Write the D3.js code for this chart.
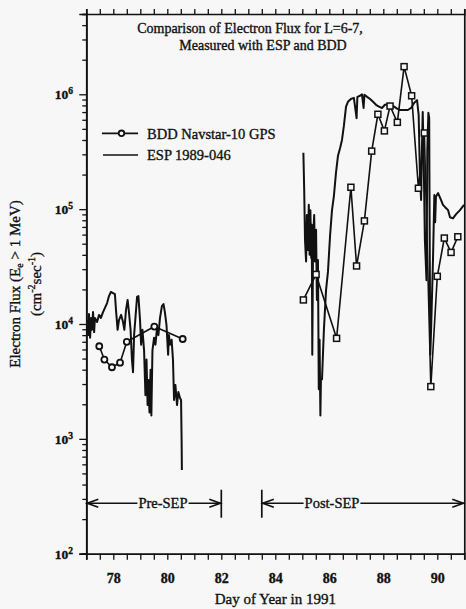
<!DOCTYPE html>
<html><head><meta charset="utf-8">
<script src="https://cdn.jsdelivr.net/npm/d3@7"></script>
<style>html,body{margin:0;padding:0;background:#f7f7f7;} svg{display:block;} text{stroke:#111;stroke-width:0.35px;}</style>
</head><body><svg id="c" width="466" height="609"></svg>
<script>
// ---------------- data ----------------
const xDomain = [77, 91];
const yDomain = [100, 5e6];
const xTicks = [77,77.5,78,78.5,79,79.5,80,80.5,81,81.5,82,82.5,83,83.5,84,84.5,85,85.5,86,86.5,87,87.5,88,88.5,89,89.5,90,90.5,91];
const xTickLabels = [78, 80, 82, 84, 86, 88, 90];
const yMajorTicks = [1e2, 1e3, 1e4, 1e5, 1e6];
const yExponents = [2, 3, 4, 5, 6];

// ESP 1989-046 (day, flux)
const espPre = [[77.03,1.08e4],[77.07,8.0e3],[77.10,1.22e4],[77.14,7.6e3],[77.18,1.13e4],[77.21,8.9e3],[77.25,1.27e4],[77.29,8.5e3],[77.32,1.13e4],[77.40,1.04e4],[77.47,1.2e4],[77.54,1.13e4],[77.62,1.27e4],[77.69,1.38e4],[77.77,1.52e4],[77.84,1.75e4],[77.91,1.9e4],[77.99,1.86e4],[78.06,1.82e4],[78.10,1.32e4],[78.16,8.9e3],[78.21,1.08e4],[78.29,1.2e4],[78.36,1.04e4],[78.41,8.9e3],[78.47,1.32e4],[78.53,1.62e4],[78.58,1.27e4],[78.64,8.9e3],[78.69,4.9e3],[78.73,3.8e3],[78.77,8.0e3],[78.82,1.13e4],[78.88,1.72e4],[78.93,1.75e4],[78.99,1.08e4],[79.03,6.6e3],[79.08,8.9e3],[79.14,5.9e3],[79.19,2.4e3],[79.23,4.9e3],[79.27,1.97e3],[79.30,3.26e3],[79.34,1.7e3],[79.38,4.0e3],[79.41,1.6e3],[79.45,5.9e3],[79.51,7.6e3],[79.56,6.6e3],[79.62,9.2e3],[79.67,8.0e3],[79.73,1.13e4],[79.80,1.43e4],[79.86,1.49e4],[79.91,1.27e4],[79.97,9.8e3],[80.03,5.4e3],[80.06,8.0e3],[80.10,6.6e3],[80.16,7.3e3],[80.21,4.9e3],[80.25,2.18e3],[80.30,2.95e3],[80.36,1.97e3],[80.41,2.56e3],[80.47,2.27e3],[80.51,2.18e3],[80.53,9.8e2],[80.54,5.35e2]];
const espPost = [[85.04,3.1e5],[85.07,1.5e5],[85.10,5.4e4],[85.14,3.5e4],[85.17,8.9e4],[85.21,4.4e4],[85.24,1.09e5],[85.27,4.0e4],[85.30,9.8e4],[85.33,3.75e4],[85.35,7.3e4],[85.37,5.4e3],[85.40,5.4e4],[85.44,8.9e4],[85.47,3.5e4],[85.51,6.6e4],[85.54,1.62e4],[85.58,3.6e4],[85.61,2.7e3],[85.64,7.3e3],[85.67,1.6e3],[85.69,3.26e3],[85.73,3.3e3],[85.80,8.9e3],[85.88,1.98e4],[85.95,2.84e4],[86.03,5.95e4],[86.10,9.8e4],[86.17,1.3e5],[86.25,2.1e5],[86.32,2.9e5],[86.40,3.4e5],[86.47,4.0e5],[86.54,5.3e5],[86.62,7.8e5],[86.69,8.6e5],[86.80,9.1e5],[86.91,9.3e5],[87.01,6.2e5],[87.04,9.5e5],[87.14,9.7e5],[87.21,1.0e6],[87.27,7.6e5],[87.30,9.9e5],[87.40,9.5e5],[87.51,9.1e5],[87.62,8.6e5],[87.73,8.1e5],[87.84,7.8e5],[87.95,7.6e5],[88.06,8.1e5],[88.17,8.2e5],[88.28,8.1e5],[88.40,7.8e5],[88.51,7.5e5],[88.62,7.3e5],[88.77,7.3e5],[88.91,7.3e5],[89.03,7.6e5],[89.14,8.4e5],[89.25,8.9e5],[89.31,6.6e5],[89.36,1.8e5],[89.40,1.2e5],[89.43,3.3e5],[89.46,7.0e5],[89.49,3.3e5],[89.54,5.4e4],[89.60,2.4e4],[89.63,3.3e5],[89.67,6.9e5],[89.70,6.2e5],[89.72,4.4e4],[89.74,5.4e3],[89.77,8.9e3],[89.84,3.6e4],[89.89,1.33e5],[89.92,7.7e4],[89.95,1.28e5],[90.03,1.38e5],[90.14,1.2e5],[90.21,1.09e5],[90.29,1.04e5],[90.40,9.8e4],[90.47,8.5e4],[90.58,8.3e4],[90.69,9.0e4],[90.84,9.8e4],[90.99,1.09e5]];

// BDD Navstar-10 GPS (day, flux)
const bddPre = [[77.48,6.4e3],[77.67,4.9e3],[77.95,4.2e3],[78.25,4.6e3],[78.50,7.0e3],[79.52,9.5e3],[80.57,7.4e3]];
const bddPost = [[85.04,1.62e4],[85.51,2.7e4],[86.27,7.5e3],[86.80,1.55e5],[87.01,3.2e4],[87.30,7.9e4],[87.57,3.2e5],[87.80,6.7e5],[88.04,4.8e5],[88.25,7.9e5],[88.52,5.7e5],[88.77,1.74e6],[89.05,9.7e5],[89.30,1.52e5],[89.52,4.6e5],[89.76,2.85e3],[90.00,2.6e4],[90.26,5.6e4],[90.51,4.2e4],[90.76,5.75e4]];

// period annotations
const periodNames = ["Pre-SEP", "Post-SEP"];
const periodStart = [77, 83.5];
const periodEnd = [82, 91];
const periodLabelDay = [79.84, 86.1];
const periodFlux = 275;

const titleLines = ["Comparison of Electron Flux for L=6-7,", "Measured with ESP and BDD"];
const legendNames = ["BDD Navstar-10 GPS", "ESP 1989-046"];

// ---------------- drawing ----------------
const W = 466, H = 609;
const FONT = "'Liberation Serif','Times New Roman',serif";
const INK = "#111";
const svg = d3.select("#c");
svg.append("rect").attr("width", W).attr("height", H).attr("fill", "#f7f7f7");

const x = d3.scaleLinear().domain(xDomain).range([86.3, 464.3]);
const y = d3.scaleLog().domain(yDomain).range([553.7, 14]);

const yMinor = y.ticks().filter(v => !yMajorTicks.includes(v));

function styleAxis(g) {
  g.select(".domain").attr("stroke", INK).attr("stroke-width", 1.7);
  g.selectAll(".tick line").attr("stroke", INK).attr("stroke-width", 1.3);
  g.selectAll("text").attr("font-family", FONT).attr("fill", INK);
}

const gb = svg.append("g").attr("transform", `translate(0,${y.range()[0]})`)
  .call(d3.axisBottom(x).tickValues(xTicks).tickSize(6).tickPadding(13)
    .tickFormat(d => xTickLabels.includes(d) ? d : ""));
styleAxis(gb);
gb.selectAll("text").attr("font-size", 14).attr("font-weight", "bold");

const gt = svg.append("g").attr("transform", `translate(0,${y.range()[1]})`)
  .call(d3.axisTop(x).tickValues(xTicks).tickSize(5).tickFormat(""));
styleAxis(gt);

const gl = svg.append("g").attr("transform", `translate(${x.range()[0]},0)`)
  .call(d3.axisLeft(y).tickValues(yMinor).tickSize(4).tickFormat(""));
styleAxis(gl);
const gl2 = svg.append("g").attr("transform", `translate(${x.range()[0]},0)`)
  .call(d3.axisLeft(y).tickValues(yMajorTicks).tickSize(7).tickFormat(""));
styleAxis(gl2);

const gr = svg.append("g").attr("transform", `translate(${x.range()[1]},0)`)
  .call(d3.axisRight(y).tickValues([]).tickSize(0).tickFormat(""));
styleAxis(gr);

yMajorTicks.forEach((v, i) => {
  const t = svg.append("text").attr("x", 73).attr("y", y(v) + 5)
    .attr("text-anchor", "end").attr("font-family", FONT).attr("font-size", 13.5)
    .attr("font-weight", "bold").attr("fill", INK);
  t.append("tspan").text("10");
  t.append("tspan").attr("dy", -5).attr("font-size", 9.5).text(yExponents[i]);
});

svg.append("text").attr("x", x(84)).attr("y", 603.5).attr("text-anchor", "middle")
  .attr("font-family", FONT).attr("font-size", 15).attr("fill", INK).text("Day of Year in 1991");

const yl = svg.append("g").attr("transform", "translate(0,284) rotate(-90)");
const l1 = yl.append("text").attr("x", 0).attr("y", 20).attr("text-anchor", "middle")
  .attr("font-family", FONT).attr("font-size", 15).attr("fill", INK);
l1.append("tspan").text("Electron Flux (E");
l1.append("tspan").attr("font-size", 10).attr("dy", 3).text("e");
l1.append("tspan").attr("dy", -3).text(" > 1 MeV)");
const l2 = yl.append("text").attr("x", 0).attr("y", 41).attr("text-anchor", "middle")
  .attr("font-family", FONT).attr("font-size", 15).attr("fill", INK);
l2.append("tspan").text("(cm");
l2.append("tspan").attr("font-size", 10).attr("dy", -6).text("-2");
l2.append("tspan").attr("dy", 6).text("sec");
l2.append("tspan").attr("font-size", 10).attr("dy", -6).text("-1");
l2.append("tspan").attr("dy", 6).text(")");

svg.append("text").attr("x", 250).attr("y", 33).attr("text-anchor", "middle")
  .attr("font-family", FONT).attr("font-size", 14).attr("fill", INK).text(titleLines[0]);
svg.append("text").attr("x", 263).attr("y", 49.5).attr("text-anchor", "middle")
  .attr("font-family", FONT).attr("font-size", 14).attr("fill", INK).text(titleLines[1]);

const line = d3.line().x(d => x(d[0])).y(d => y(d[1]));
[espPre, espPost].forEach(s => {
  svg.append("path").datum(s).attr("d", line).attr("fill", "none")
    .attr("stroke", INK).attr("stroke-width", 2).attr("stroke-linejoin", "round");
});
[bddPre, bddPost].forEach(s => {
  svg.append("path").datum(s).attr("d", line).attr("fill", "none")
    .attr("stroke", INK).attr("stroke-width", 1.6).attr("stroke-linejoin", "round");
});
svg.selectAll(".cm").data(bddPre).join("circle")
  .attr("cx", d => x(d[0])).attr("cy", d => y(d[1])).attr("r", 3)
  .attr("fill", "#f7f7f7").attr("stroke", INK).attr("stroke-width", 1.8);
svg.selectAll(".sm").data(bddPost).join("rect")
  .attr("x", d => x(d[0]) - 3).attr("y", d => y(d[1]) - 3)
  .attr("width", 6).attr("height", 6)
  .attr("fill", "#f7f7f7").attr("stroke", INK).attr("stroke-width", 1.5);

svg.append("line").attr("x1", 102).attr("x2", 138).attr("y1", 133.3).attr("y2", 133.3)
  .attr("stroke", INK).attr("stroke-width", 1.8);
svg.append("circle").attr("cx", 121.5).attr("cy", 133.3).attr("r", 2.8)
  .attr("fill", "#f7f7f7").attr("stroke", INK).attr("stroke-width", 1.8);
svg.append("text").attr("x", 147).attr("y", 138.5).attr("font-family", FONT)
  .attr("font-size", 14.5).attr("fill", INK).text(legendNames[0]);
svg.append("line").attr("x1", 103).attr("x2", 138).attr("y1", 155).attr("y2", 155)
  .attr("stroke", INK).attr("stroke-width", 1.3);
svg.append("text").attr("x", 147).attr("y", 160).attr("font-family", FONT)
  .attr("font-size", 14.5).attr("fill", INK).text(legendNames[1]);

const ay = y(periodFlux);
function chevron(px, dir) {
  svg.append("path")
    .attr("d", `M${px + dir * 11},${ay - 4} L${px},${ay} L${px + dir * 11},${ay + 4}`)
    .attr("fill", "none").attr("stroke", INK).attr("stroke-width", 1.7);
}
periodNames.forEach((name, i) => {
  const xs = x(periodStart[i]), xe = x(periodEnd[i]);
  svg.append("line").attr("x1", xs).attr("x2", xe).attr("y1", ay).attr("y2", ay)
    .attr("stroke", INK).attr("stroke-width", 1.5);
  chevron(xs + 1, 1);
  chevron(xe - 1, -1);
  const t = svg.append("text").attr("x", x(periodLabelDay[i])).attr("y", ay + 5)
    .attr("text-anchor", "middle").attr("font-family", FONT).attr("font-size", 14.5)
    .attr("fill", INK).text(name);
  const bb = t.node().getBBox();
  svg.insert("rect", () => t.node()).attr("x", bb.x - 1).attr("y", ay - 3)
    .attr("width", bb.width + 2).attr("height", 6).attr("fill", "#f7f7f7");
});
[periodEnd[0], periodStart[1]].forEach(d => {
  svg.append("line").attr("x1", x(d)).attr("x2", x(d)).attr("y1", ay - 13.5).attr("y2", ay + 14.5)
    .attr("stroke", INK).attr("stroke-width", 1.7);
});
</script></body></html>
